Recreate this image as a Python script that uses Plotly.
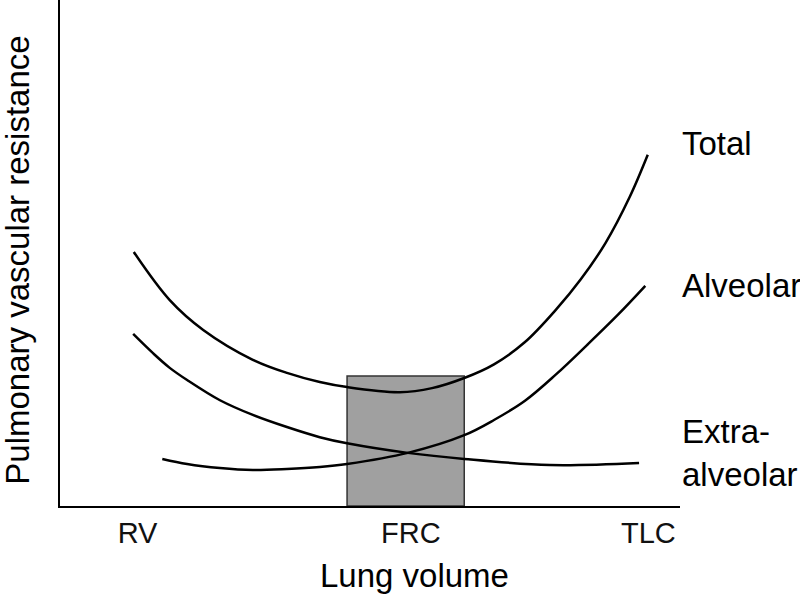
import plotly.graph_objects as go

# Lung volume axis labels
tick_vals = [1.25, 5.66, 9.49]
tick_text = ["RV", "FRC", "TLC"]

# Curves (arbitrary units)
volume_total = [1.19, 1.77, 2.31, 3.11, 3.66, 4.19, 4.63, 5.48, 6.00, 6.52, 7.00, 7.50, 8.00, 8.40, 8.80, 9.19, 9.48]
resist_total = [5.02, 4.07, 3.48, 2.89, 2.63, 2.45, 2.35, 2.25, 2.33, 2.53, 2.80, 3.24, 3.88, 4.48, 5.20, 6.11, 6.94]

volume_alveolar = [1.65, 2.05, 2.58, 3.11, 3.66, 4.19, 4.63, 5.61, 6.52, 7.00, 7.50, 8.00, 8.50, 9.00, 9.44]
resist_alveolar = [0.93, 0.83, 0.75, 0.71, 0.73, 0.77, 0.83, 1.05, 1.40, 1.70, 2.08, 2.60, 3.18, 3.78, 4.35]

volume_extra = [1.18, 1.50, 1.77, 2.05, 2.58, 3.11, 3.66, 4.19, 4.63, 5.61, 6.52, 7.90, 9.34]
resist_extra = [3.40, 3.02, 2.73, 2.49, 2.09, 1.80, 1.56, 1.36, 1.24, 1.05, 0.93, 0.81, 0.85]

# FRC range box
frc_box_x = [4.63, 6.52]
frc_box_top = 2.57

# Curve labels: name and y position at the right end
curve_labels = ["Total", "Alveolar", "Extra-<br>alveolar"]
curve_label_y = [7.17, 4.35, 1.05]

FONT = "Liberation Sans, Arial, sans-serif"

fig = go.Figure()

for xs, ys in [(volume_total, resist_total),
               (volume_alveolar, resist_alveolar),
               (volume_extra, resist_extra)]:
    fig.add_trace(go.Scatter(x=xs, y=ys, mode="lines",
                             line=dict(color="black", width=2.5, shape="spline", smoothing=1),
                             showlegend=False, hoverinfo="skip"))

# grey box around FRC, behind the curves
fig.add_shape(type="rect", xref="x", yref="y",
              x0=frc_box_x[0], x1=frc_box_x[1], y0=0, y1=frc_box_top,
              fillcolor="#a0a0a0", line=dict(color="#333333", width=1.5),
              layer="below")

for label, y in zip(curve_labels, curve_label_y):
    fig.add_annotation(x=10, y=y, xref="x", yref="y", text=label,
                       showarrow=False, xanchor="left", yanchor="middle", align="left",
                       font=dict(family=FONT, size=33, color="black"))

# axis titles as annotations for exact placement
fig.add_annotation(x=-0.07, y=0.486, xref="paper", yref="paper",
                   text="Pulmonary vascular resistance", textangle=-90,
                   showarrow=False, xanchor="center", yanchor="middle",
                   font=dict(family=FONT, size=33, color="black"))
fig.add_annotation(x=0.571, y=-0.138, xref="paper", yref="paper",
                   text="Lung volume", showarrow=False,
                   xanchor="center", yanchor="middle",
                   font=dict(family=FONT, size=33, color="black"))

fig.update_layout(
    width=800, height=596,
    margin=dict(l=60, r=120, t=0, b=90),
    plot_bgcolor="white", paper_bgcolor="white",
    xaxis=dict(range=[0, 10], showgrid=False, zeroline=False,
               showline=True, linecolor="black", linewidth=1.5,
               tickmode="array", tickvals=tick_vals, ticktext=tick_text,
               ticks="", ticklen=0,
               tickfont=dict(family=FONT, size=29, color="#111111")),
    yaxis=dict(range=[0, 10], showgrid=False, zeroline=False,
               showline=True, linecolor="black", linewidth=1.5,
               showticklabels=False, ticks=""),
)

# drop the default page margin so the figure sits at the window corner
fig.write_html("out.html", config={"displayModeBar": False},
               post_script="document.body.style.margin='0';")
